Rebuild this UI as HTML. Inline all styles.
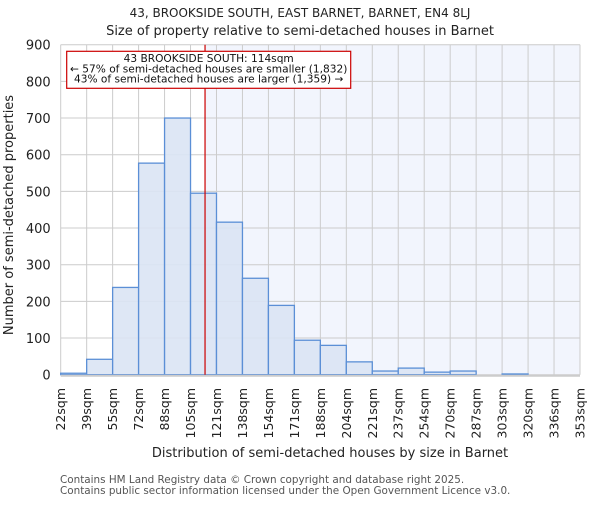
<!DOCTYPE html>
<html><head><meta charset="utf-8"><style>
body{margin:0;background:#fff;}
svg text{font-family:"DejaVu Sans","Liberation Sans",sans-serif;}
</style></head><body>
<svg width="600" height="500" viewBox="0 0 600 500" xmlns="http://www.w3.org/2000/svg">
<text x="300" y="17" text-anchor="middle" font-size="12" fill="#222">43, BROOKSIDE SOUTH, EAST BARNET, BARNET, EN4 8LJ</text>
<text x="300" y="35" text-anchor="middle" font-size="13" fill="#222">Size of property relative to semi-detached houses in Barnet</text>
<g id="plot"></g>
<text x="330" y="457" text-anchor="middle" font-size="13" fill="#222">Distribution of semi-detached houses by size in Barnet</text>
<text transform="translate(13,215) rotate(-90)" text-anchor="middle" font-size="13" fill="#222">Number of semi-detached properties</text>
<text x="60" y="483" font-size="10.4" fill="#555">Contains HM Land Registry data © Crown copyright and database right 2025.</text>
<text x="60" y="494" font-size="10.4" fill="#555">Contains public sector information licensed under the Open Government Licence v3.0.</text>
</svg>
<script>
const tickLabels=["22sqm","39sqm","55sqm","72sqm","88sqm","105sqm","121sqm","138sqm","154sqm","171sqm","188sqm","204sqm","221sqm","237sqm","254sqm","270sqm","287sqm","303sqm","320sqm","336sqm","353sqm"];
const counts=[4,42,238,577,700,495,416,263,189,94,80,35,10,18,7,10,0,2,0,0];
const yTicks=[0,100,200,300,400,500,600,700,800,900];
const binStart=22, binWidth=16.55, propertySize=114;
const X0=60.7,X1=580,Y0=374.7,Y1=44.7,YMAX=900;
const nb=counts.length;
const xs=i=>X0+(X1-X0)*i/nb;
const xv=v=>X0+(v-binStart)/binWidth*(X1-X0)/nb;
const ys=v=>Y0-(Y0-Y1)*v/YMAX;
const NS="http://www.w3.org/2000/svg";
const g=document.getElementById('plot');
function mk(t,a){const e=document.createElementNS(NS,t);for(const k in a)e.setAttribute(k,a[k]);g.appendChild(e);return e;}
const px=xv(propertySize);
let e=mk('rect',{x:px,y:Y1,width:X1-px,height:Y0-Y1,fill:'#f2f5fd'});


yTicks.forEach(t=>{
 let l=mk('line',{x1:X0,x2:X1,y1:ys(t),y2:ys(t),stroke:'#cccccc','stroke-width':1});
 
 
 let tx=mk('text',{x:X0-10,y:ys(t)+5,'text-anchor':'end','font-size':13,fill:'#222'});
 tx.textContent=t;
 
 
});
tickLabels.forEach((t,i)=>{
 let l=mk('line',{x1:xs(i),x2:xs(i),y1:Y1,y2:Y0,stroke:'#cccccc','stroke-width':1});
 
 
 let tx=mk('text',{transform:`translate(${xs(i)+4.5},388) rotate(-90)`,'text-anchor':'end','font-size':12.5,fill:'#222'});
 tx.textContent=t;
 
 
});
counts.forEach((c,i)=>{
 if(c<=0)return;
 let r=mk('rect',{x:xs(i),y:ys(c),width:xs(i+1)-xs(i),height:Y0-ys(c),fill:'#dae4f4','fill-opacity':0.9,stroke:'#5b8fd6','stroke-width':1.3});
 
 
});
e=mk('line',{x1:X0,x2:X1,y1:Y0+1,y2:Y0+1,stroke:'#cccccc','stroke-width':2});


e=mk('line',{x1:px,x2:px,y1:Y1,y2:Y0,stroke:'#cc0000','stroke-width':1.2});


e=mk('rect',{x:66.7,y:51.3,width:284,height:37,fill:'#fff',stroke:'#cc0000','stroke-width':1.2});


["43 BROOKSIDE SOUTH: 114sqm","← 57% of semi-detached houses are smaller (1,832)","43% of semi-detached houses are larger (1,359) →"].forEach((s,i)=>{
 let t=mk('text',{x:208.7,y:62+i*10.3,'text-anchor':'middle','font-size':10.6,fill:'#111'});
 t.textContent=s;
 
 
});
</script>
</body></html>
